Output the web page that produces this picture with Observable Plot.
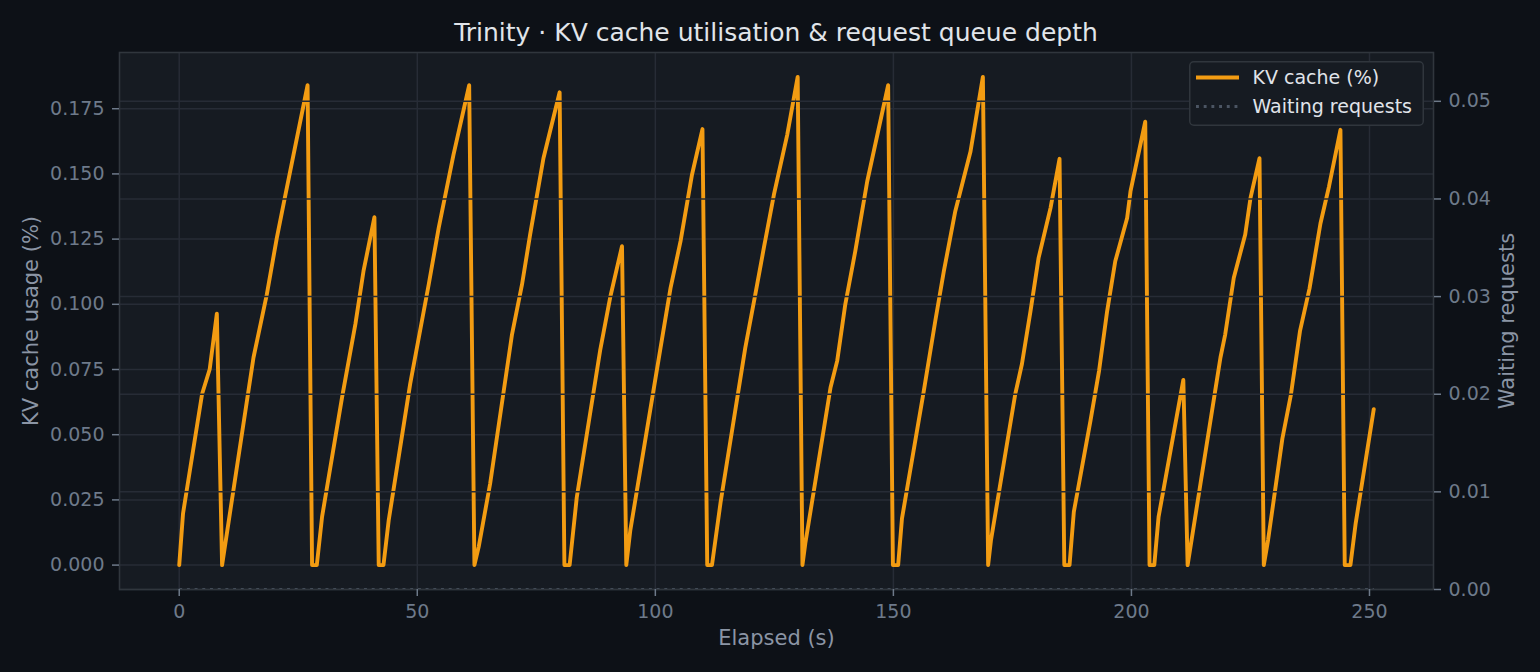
<!DOCTYPE html>
<html>
<head>
<meta charset="utf-8">
<script src="https://cdn.jsdelivr.net/npm/d3@7"></script>
<script src="https://cdn.jsdelivr.net/npm/@observablehq/plot@0.6"></script>
<style>
  html, body { margin: 0; padding: 0; background: #0d1117; }
  #wrap { position: relative; width: 1540px; height: 672px; background: #0d1117; font-family: "DejaVu Sans", sans-serif; overflow: hidden; }
  #title { position: absolute; left: 0; top: 18px; width: 1552px; height: 30px; line-height: 30px; text-align: center; color: #e1e5ea; font-size: 25px; }
  #chart { position: absolute; left: 0; top: 44px; }
  #legend { position: absolute; left: 1189px; top: 61px; }
</style>
</head>
<body>
<div id="wrap">
  <div id="title">Trinity · KV cache utilisation &amp; request queue depth</div>
  <div id="chart"></div>
  <div id="legend"></div>
</div>
<script>
// ---- data ----
const kvTime = [
  0, 0.8, 4.8, 6.4, 7.9, 9.0,
  15.6, 18.4, 20.5, 22.3, 26.96, 27.9, 28.9,
  30.0, 34.2, 37.0, 38.7, 41.0, 41.9, 42.9,
  44.0, 48.5, 52.4, 54.5, 57.6, 60.9, 62.0,
  62.9, 65.3, 69.9, 72.0, 73.7, 76.5, 79.9, 80.9, 82.0,
  83.5, 88.4, 90.5, 93.0, 93.9,
  94.75, 101.1, 103.2, 105.3, 107.7, 109.9, 110.9, 111.9,
  113.7, 118.9, 121.0, 122.8, 124.9, 127.7, 129.9, 130.9,
  131.5, 136.8, 138.2, 139.9, 142.0, 144.5, 148.9, 149.9, 151.0,
  151.8, 156.4, 158.8, 160.6, 163.0, 166.2, 168.8, 169.9,
  170.5, 175.6, 177.0, 178.8, 180.5, 183.0, 184.9, 185.9, 187.0,
  187.9, 191.4, 193.2, 194.9, 196.6, 199.1, 199.8, 202.9, 203.8, 204.8,
  205.7, 210.9, 211.8,
  214.5, 217.6, 218.7, 219.7, 221.5, 223.9, 225.0, 226.9, 227.8,
  228.7, 231.7, 233.5, 235.4, 237.4, 239.7, 241.5, 243.9, 244.8, 246.0,
  247.1, 250.9
];
const kvValue = [
  0, 0.0198, 0.0656, 0.0751, 0.0964, 0,
  0.0796, 0.1038, 0.1255, 0.142, 0.184, 0, 0,
  0.0185, 0.0643, 0.0924, 0.1127, 0.1334, 0, 0,
  0.0172, 0.0694, 0.1076, 0.1293, 0.1573, 0.184, 0,
  0.007, 0.0312, 0.0885, 0.1076, 0.1267, 0.156, 0.1813, 0, 0,
  0.026, 0.0822, 0.1025, 0.1223, 0,
  0.0134, 0.0834, 0.1063, 0.1242, 0.1497, 0.1672, 0, 0,
  0.024, 0.0834, 0.1038, 0.1217, 0.142, 0.165, 0.1872, 0,
  0.0083, 0.0681, 0.0783, 0.1, 0.1204, 0.1471, 0.184, 0, 0,
  0.0178, 0.0669, 0.0936, 0.1127, 0.1357, 0.1586, 0.1872, 0,
  0.0096, 0.0656, 0.0771, 0.0974, 0.1178, 0.1369, 0.1558, 0, 0,
  0.0204, 0.0554, 0.0745, 0.0974, 0.1165, 0.1331, 0.1433, 0.170, 0, 0,
  0.0185, 0.071, 0,
  0.0312, 0.0669, 0.0796, 0.0885, 0.1102, 0.1268, 0.1407, 0.156, 0,
  0.0096, 0.0485, 0.0654, 0.0897, 0.106, 0.131, 0.1452, 0.1669, 0, 0,
  0.016, 0.0598
];
const waitTime = [0, 250.9];
const waitValue = [0, 0];

const xTicks = [0, 50, 100, 150, 200, 250];
const leftTicks = [0, 0.025, 0.05, 0.075, 0.1, 0.125, 0.15, 0.175];
const rightTicks = [0, 0.01, 0.02, 0.03, 0.04, 0.05];
const rightTop = 0.055;

// ---- styling ----
const C = {
  panel: "#161b22", grid: "#272c36", spine: "#30363d",
  tick: "#6e7a8a", label: "#8b95a5", kv: "#f39c12", wait: "#4b5563", legendText: "#e0e4ea"
};
const waitDash = "2.9,4.8";

const kv = kvTime.map((t, i) => ({t, v: kvValue[i]}));
const wait = waitTime.map((t, i) => ({t, r: waitValue[i]}));

// matplotlib-like 5% margins
const xmin = d3.min(kvTime), xmax = d3.max(kvTime);
const ymin = d3.min(kvValue), ymax = d3.max(kvValue);
const x0 = xmin - 0.05 * (xmax - xmin), x1 = xmax + 0.05 * (xmax - xmin);
const y0 = ymin - 0.05 * (ymax - ymin), y1 = ymax + 0.05 * (ymax - ymin);
const r2y = r => y0 + (r / rightTop) * (y1 - y0);
const y2r = y => (y - y0) / (y1 - y0) * rightTop;

const chart = Plot.plot({
  width: 1540,
  height: 628,
  marginLeft: 119,
  marginRight: 107,
  marginTop: 8,
  marginBottom: 83,
  x: {domain: [x0, x1]},
  y: {domain: [y0, y1]},
  style: {background: "transparent", fontFamily: "DejaVu Sans", fontSize: "19px", color: C.tick, overflow: "visible"},
  marks: [
    Plot.frame({fill: C.panel}),
    Plot.ruleX(xTicks, {stroke: C.grid, strokeWidth: 1.5}),
    Plot.ruleY(leftTicks, {stroke: C.grid, strokeWidth: 1.5}),
    Plot.line(kv, {x: "t", y: "v", stroke: C.kv, strokeWidth: 3.9, strokeLinejoin: "round", strokeLinecap: "round"}),
    Plot.ruleY(rightTicks.map(r2y), {stroke: C.grid, strokeWidth: 1.5}),
    Plot.line(wait, {x: "t", y: d => r2y(d.r), stroke: C.wait, strokeWidth: 2.9, strokeDasharray: waitDash, strokeLinecap: "butt", clip: true}),
    Plot.frame({stroke: C.spine, strokeWidth: 1.6}),
    Plot.axisX({ticks: xTicks, tickSize: 7, tickPadding: 8, tickFormat: d => String(d), label: null, stroke: C.tick, fill: C.tick, strokeWidth: 1.5}),
    Plot.axisY({anchor: "left", ticks: leftTicks, tickSize: 7, tickPadding: 8, tickFormat: d3.format(".3f"), label: null, stroke: C.tick, fill: C.tick, strokeWidth: 1.5}),
    Plot.axisY({anchor: "right", ticks: rightTicks.map(r2y), tickSize: 7, tickPadding: 8, tickFormat: d => d3.format(".2f")(Math.round(y2r(d) * 1000) / 1000), label: null, stroke: C.tick, fill: C.tick, strokeWidth: 1.5}),
    Plot.text(["KV cache usage (%)"], {text: d => d, frameAnchor: "left", dx: -88.5, rotate: -90, fontSize: 21, fill: C.label, textAnchor: "middle", lineAnchor: "middle"}),
    Plot.text(["Waiting requests"], {text: d => d, frameAnchor: "right", dx: 74, rotate: -90, fontSize: 21, fill: C.label, textAnchor: "middle", lineAnchor: "middle"}),
    Plot.text(["Elapsed (s)"], {text: d => d, frameAnchor: "bottom", dy: 49, fontSize: 21, fill: C.label, textAnchor: "middle", lineAnchor: "middle"})
  ]
});
document.getElementById("chart").appendChild(chart);

// legend
const lg = d3.select("#legend").append("svg").attr("width", 236).attr("height", 66);
lg.append("rect").attr("x", 0.75).attr("y", 0.75).attr("width", 233.5).attr("height", 63.5)
  .attr("rx", 4).attr("fill", C.panel).attr("stroke", C.spine).attr("stroke-width", 1.5);
const items = [
  {label: "KV cache (%)", stroke: C.kv, width: 3.9, dash: null},
  {label: "Waiting requests", stroke: C.wait, width: 2.9, dash: waitDash}
];
items.forEach((it, i) => {
  const cy = 16.5 + i * 29;
  lg.append("line").attr("x1", 7).attr("x2", 50).attr("y1", cy).attr("y2", cy)
    .attr("stroke", it.stroke).attr("stroke-width", it.width)
    .attr("stroke-dasharray", it.dash);
  lg.append("text").attr("x", 63.5).attr("y", cy).attr("dy", "0.35em")
    .attr("fill", C.legendText).attr("font-size", 19).attr("font-family", "DejaVu Sans")
    .text(it.label);
});
</script>
</body>
</html>
